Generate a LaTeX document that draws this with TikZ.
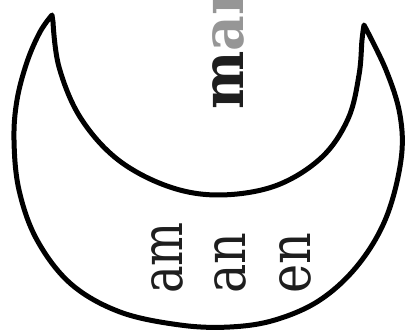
\documentclass[tikz,border=0pt]{standalone}
\usepackage{fontspec}
\usepackage{graphicx}
\setmainfont{DejaVu Serif}
\definecolor{lettergray}{RGB}{150,150,150}
\definecolor{letterblack}{RGB}{30,30,30}
\tikzset{
  outline/.style={line width=5pt, line join=round, draw=black, fill=white},
  vword/.style={rotate=90, anchor=base west, inner sep=0pt, font=\fontsize{58}{60}\selectfont},
}
\begin{document}
\begin{tikzpicture}[x=1pt,y=-1pt]
\useasboundingbox (0,0) rectangle (408,336);
\clip (0,0) rectangle (408,336);
\draw[outline] plot[smooth, tension=0.6] coordinates {(52,15) (40,32) (27,62) (17,100) (14,140) (19,190) (37,240) (71,284) (120,312) (180,325) (230,327) (275,320) (320,300) (358,265) (386,218) (401,160) (400,115) (386,70) (364,25)}
  -- plot[smooth, tension=0.6] coordinates {(364,25) (362,40) (359,75) (348,119) (321,158) (275,186) (218,195) (167,186) (117,159) (80,117) (59,67) (53,22)} -- cycle;
\node[vword] (mam) at (243,110) {\scalebox{0.95}[1]{\bfseries\textcolor{letterblack}{m}\textcolor{lettergray}{am}}};
\node[vword] (am) at (182,294) {\scalebox{0.8}[1]{\textcolor{letterblack}{am}}};
\node[vword] (an) at (245,294) {\scalebox{0.85}[1]{\textcolor{letterblack}{an}}};
\node[vword] (en) at (310,294) {\scalebox{0.85}[1]{\textcolor{letterblack}{en}}};
\end{tikzpicture}
\end{document}
